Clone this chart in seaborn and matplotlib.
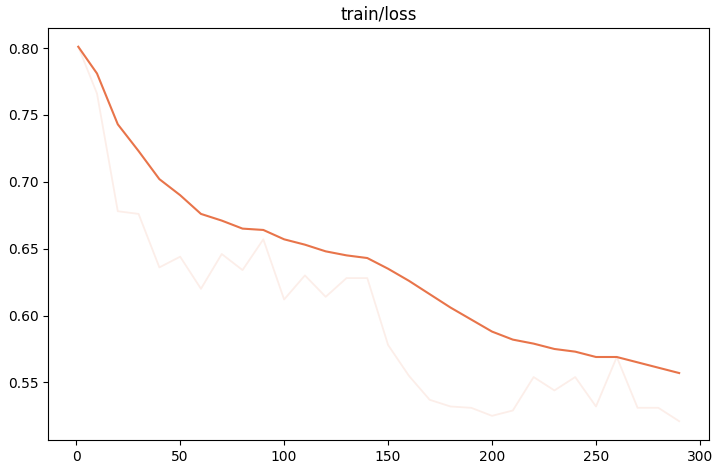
import pandas as pd
import matplotlib
matplotlib.use("Agg")
import matplotlib.pyplot as plt
import seaborn as sns

# steps logged every 10 iterations
steps = [1, 10, 20, 30, 40, 50, 60, 70, 80, 90,
         100, 110, 120, 130, 140, 150, 160, 170, 180, 190,
         200, 210, 220, 230, 240, 250, 260, 270, 280, 290]

raw_loss = [0.801, 0.766, 0.678, 0.676, 0.636, 0.644, 0.620, 0.646, 0.634, 0.657,
            0.612, 0.630, 0.614, 0.628, 0.628, 0.578, 0.555, 0.537, 0.532, 0.531,
            0.525, 0.529, 0.554, 0.544, 0.554, 0.532, 0.569, 0.531, 0.531, 0.521]

smooth_loss = [0.801, 0.781, 0.743, 0.723, 0.702, 0.690, 0.676, 0.671, 0.665, 0.664,
               0.657, 0.653, 0.648, 0.645, 0.643, 0.635, 0.626, 0.616, 0.606, 0.597,
               0.588, 0.582, 0.579, 0.575, 0.573, 0.569, 0.569, 0.565, 0.561, 0.557]

df = pd.DataFrame({"step": steps, "raw": raw_loss, "smooth": smooth_loss})

line_color = "#e8744a"

fig, ax = plt.subplots(figsize=(7.2, 4.67), dpi=100)

# faint raw curve behind the smoothed one
sns.lineplot(data=df, x="step", y="raw", ax=ax, color=line_color, alpha=0.12, linewidth=1.3)
sns.lineplot(data=df, x="step", y="smooth", ax=ax, color=line_color, linewidth=1.5)

ax.set_title("train/loss")
ax.set_xlabel("")
ax.set_ylabel("")

plt.subplots_adjust(left=0.067, right=0.985, top=0.94, bottom=0.058)
plt.savefig("out.png", dpi=100)
plt.close()
